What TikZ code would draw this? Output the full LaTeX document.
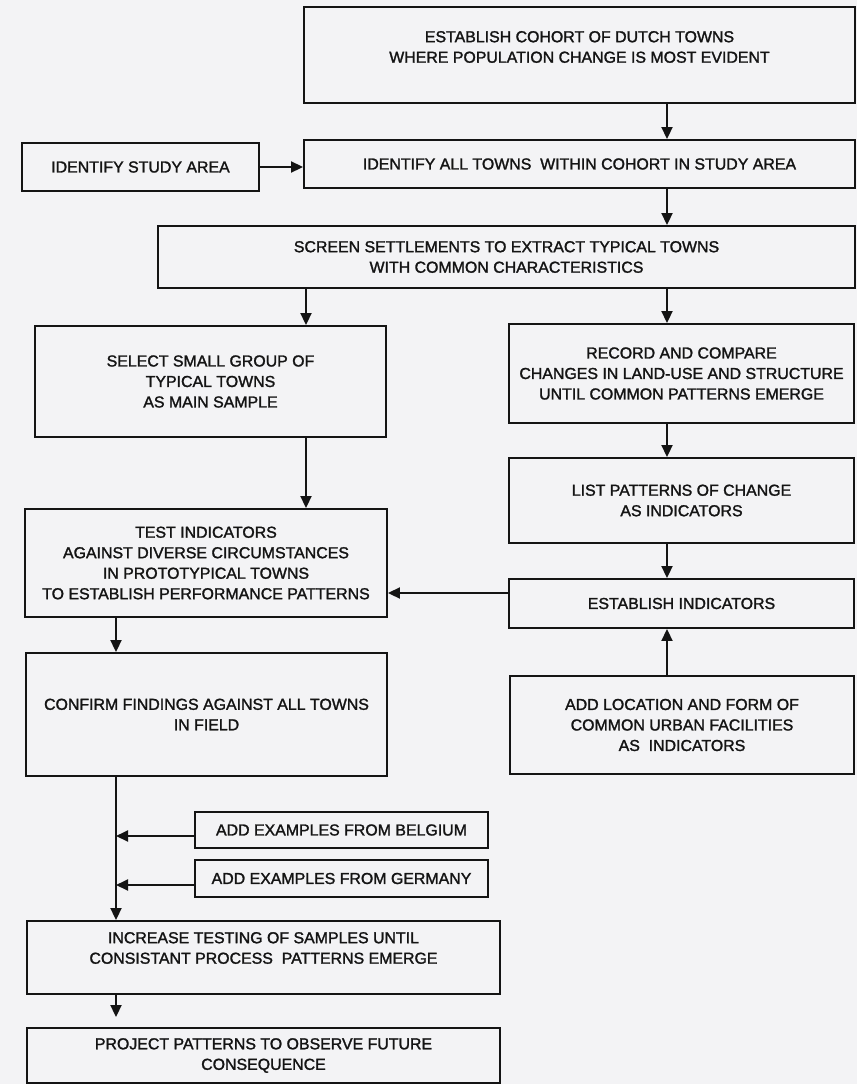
\documentclass[tikz,border=0pt]{standalone}
\usepackage{fontspec}
\setmainfont{Liberation Sans}[FakeBold=1.6]
\usetikzlibrary{arrows.meta}
\definecolor{paper}{RGB}{243,243,245}
\definecolor{ink}{RGB}{20,20,20}
\begin{document}
\begin{tikzpicture}[x=1pt,y=-1pt,
  box/.style={draw=ink, line width=1.9pt, inner sep=0pt, align=center, text=ink, font=\fontsize{15.9}{20.5}\selectfont},
  txt/.style={inner sep=0pt, align=center, text=ink, font=\fontsize{15.9}{20.5}\selectfont},
  arr/.style={draw=ink, line width=1.9pt, -{Triangle[length=12pt,width=11pt]}}]
\fill[paper] (0,0) rectangle (857,1084);
\useasboundingbox (0,0) rectangle (857,1084);

% boxes
\node[box, minimum width=551pt, minimum height=96pt] (b1) at (579.5,55) {};
\node[txt] (b1t) at (579.5,47) {ESTABLISH COHORT OF DUTCH TOWNS\\WHERE POPULATION CHANGE IS MOST EVIDENT};
\node[box, minimum width=237pt, minimum height=48pt] (st) at (140.5,167) {IDENTIFY STUDY AREA};
\node[box, minimum width=551pt, minimum height=48pt] (b3) at (579.5,164) {IDENTIFY ALL TOWNS\ \ WITHIN COHORT IN STUDY AREA};
\node[box, minimum width=697pt, minimum height=62pt] (b4) at (506.5,257) {SCREEN SETTLEMENTS TO EXTRACT TYPICAL TOWNS\\WITH COMMON CHARACTERISTICS};
\node[box, minimum width=351pt, minimum height=111pt] (b5) at (210.5,381.5) {SELECT SMALL GROUP OF\\TYPICAL TOWNS\\AS MAIN SAMPLE};
\node[box, minimum width=345pt, minimum height=99pt] (b6) at (681.5,373.5) {RECORD AND COMPARE\\CHANGES IN LAND-USE AND STRUCTURE\\UNTIL COMMON PATTERNS EMERGE};
\node[box, minimum width=345pt, minimum height=85pt] (b7) at (681.5,500.5) {LIST PATTERNS OF CHANGE\\AS INDICATORS};
\node[box, minimum width=362pt, minimum height=108pt] (b8) at (206,563) {TEST INDICATORS\\AGAINST DIVERSE CIRCUMSTANCES\\IN PROTOTYPICAL TOWNS\\TO ESTABLISH PERFORMANCE PATTERNS};
\node[box, minimum width=345pt, minimum height=49pt] (b9) at (681.5,603.5) {ESTABLISH INDICATORS};
\node[box, minimum width=361pt, minimum height=123pt] (b10) at (206.5,714.5) {CONFIRM FINDINGS AGAINST ALL TOWNS\\IN FIELD};
\node[box, minimum width=344pt, minimum height=98pt] (b11) at (682,725) {ADD LOCATION AND FORM OF\\COMMON URBAN FACILITIES\\AS\ \ INDICATORS};
\node[box, minimum width=293pt, minimum height=36pt] (b12) at (341.5,830) {ADD EXAMPLES FROM BELGIUM};
\node[box, minimum width=293pt, minimum height=37pt] (b13) at (341.5,878.5) {ADD EXAMPLES FROM GERMANY};
\node[box, minimum width=473pt, minimum height=73pt] (b14) at (263.5,957.5) {};
\node[txt] (b14t) at (263.5,948) {INCREASE TESTING OF SAMPLES UNTIL\\CONSISTANT PROCESS\ \ PATTERNS EMERGE};
\node[box, minimum width=473pt, minimum height=55pt] (b15) at (263.5,1055.5) {PROJECT PATTERNS TO OBSERVE FUTURE\\CONSEQUENCE};

% column / row guides
\coordinate (xL) at (306,0);
\coordinate (xR) at (667,0);
\coordinate (xM) at (116,0);
\coordinate (y9) at (0,593);
\coordinate (y12) at (0,836);
\coordinate (y13) at (0,885);

% connectors
\draw[arr] (b1.south -| xR) -- (b3.north -| xR);
\draw[arr] (st.east) -- (st.east -| b3.west);
\draw[arr] (b3.south -| xR) -- (b4.north -| xR);
\draw[arr] (b4.south -| xL) -- (b5.north -| xL);
\draw[arr] (b4.south -| xR) -- (b6.north -| xR);
\draw[arr] (b5.south -| xL) -- (b8.north -| xL);
\draw[arr] (b6.south -| xR) -- (b7.north -| xR);
\draw[arr] (b7.south -| xR) -- (b9.north -| xR);
\draw[arr] (b11.north -| xR) -- (b9.south -| xR);
\draw[arr] (b9.west |- y9) -- (b8.east |- y9);
\draw[arr] (b8.south -| xM) -- (b10.north -| xM);
\draw[arr] (b10.south -| xM) -- (b14.north -| xM);
\draw[arr] (b12.west |- y12) -- (xM |- y12);
\draw[arr] (b13.west |- y13) -- (xM |- y13);
\draw[arr, shorten >=10pt] (b14.south -| xM) -- (b15.north -| xM);
\end{tikzpicture}
\end{document}
